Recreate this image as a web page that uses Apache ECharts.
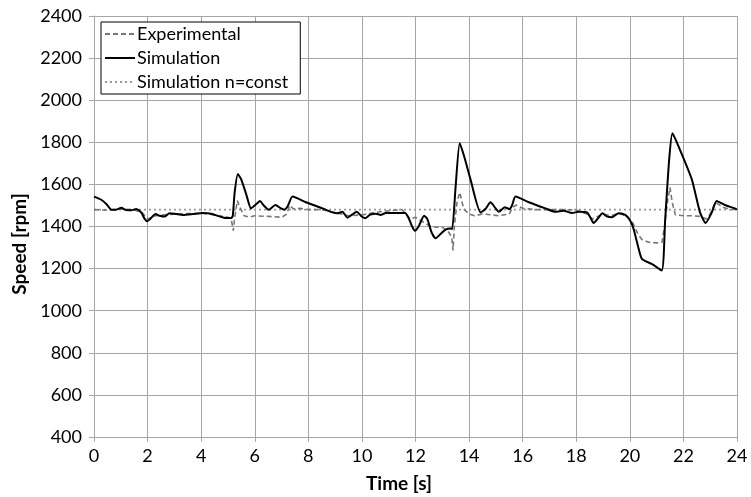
<!DOCTYPE html>
<html>
<head>
<meta charset="utf-8">
<script src="https://cdn.jsdelivr.net/npm/echarts@6/dist/echarts.min.js"></script>
<style>
  html, body { margin: 0; padding: 0; background: #fff; }
  #chart { width: 751px; height: 497px; }
</style>
</head>
<body>
<div id="chart"></div>
<script>
// Speed traces over time: [time s, speed rpm]
const experimental = [
  [0, 1480], [0.5, 1477], [1.0, 1483], [1.5, 1480], [1.8, 1465], [2.0, 1436], [2.3, 1451],
  [2.6, 1455], [3.0, 1459], [3.5, 1461], [4.0, 1463], [4.5, 1455], [5.0, 1444], [5.12, 1436],
  [5.2, 1380], [5.25, 1440], [5.35, 1523], [5.45, 1490], [5.6, 1451], [5.8, 1444], [6.0, 1451],
  [6.5, 1448], [7.0, 1444], [7.2, 1459], [7.3, 1500], [7.45, 1483], [7.7, 1486], [8.0, 1480],
  [8.5, 1480], [9.0, 1467], [9.5, 1451], [10.0, 1455], [10.5, 1467], [11.0, 1475], [11.5, 1480],
  [11.8, 1436], [12.0, 1444], [12.3, 1420], [12.6, 1398], [13.0, 1396], [13.2, 1380], [13.35, 1350],
  [13.4, 1286], [13.45, 1400], [13.55, 1515], [13.65, 1562], [13.8, 1483], [14.0, 1459], [14.2, 1451],
  [14.5, 1459], [14.8, 1456], [15.1, 1451], [15.5, 1459], [15.62, 1490], [15.75, 1502], [16.0, 1486],
  [16.5, 1480], [17.0, 1480], [17.5, 1480], [18.0, 1478], [18.4, 1459], [18.6, 1436], [18.8, 1448],
  [19.0, 1459], [19.3, 1451], [19.6, 1463], [19.9, 1448], [20.1, 1420], [20.3, 1365], [20.45, 1338],
  [20.7, 1325], [21.0, 1322], [21.2, 1325], [21.3, 1404], [21.42, 1530], [21.5, 1586], [21.58, 1515],
  [21.7, 1455], [22.0, 1451], [22.3, 1451], [22.6, 1448], [22.85, 1436], [23.0, 1459], [23.2, 1515],
  [23.5, 1490], [23.8, 1480], [24, 1486]
];

const simulation = [
  [0, 1542], [0.27, 1527], [0.46, 1507], [0.65, 1480], [0.83, 1480], [1.02, 1489], [1.2, 1478],
  [1.39, 1477], [1.58, 1483], [1.76, 1467], [1.89, 1436], [1.99, 1425], [2.1, 1436], [2.3, 1459],
  [2.45, 1451], [2.63, 1447], [2.82, 1463], [3.07, 1459], [3.32, 1455], [3.69, 1459], [4.06, 1464],
  [4.37, 1461], [4.68, 1448], [4.93, 1440], [5.12, 1440], [5.18, 1451], [5.25, 1562], [5.37, 1649],
  [5.49, 1625], [5.68, 1554], [5.86, 1486], [6.02, 1502], [6.2, 1521], [6.32, 1502], [6.52, 1480],
  [6.77, 1502], [6.98, 1486], [7.1, 1480], [7.23, 1496], [7.41, 1542], [7.91, 1515], [8.53, 1486],
  [8.9, 1467], [9.09, 1463], [9.27, 1470], [9.46, 1442], [9.62, 1455], [9.81, 1470], [9.96, 1451],
  [10.12, 1439], [10.29, 1455], [10.52, 1461], [10.7, 1455], [10.89, 1464], [11.26, 1464],
  [11.61, 1464], [11.76, 1436], [11.86, 1404], [11.98, 1380], [12.13, 1404], [12.32, 1451],
  [12.44, 1436], [12.6, 1372], [12.75, 1344], [12.94, 1365], [13.12, 1385], [13.31, 1391],
  [13.37, 1388], [13.5, 1594], [13.65, 1796], [13.81, 1736], [14.05, 1625], [14.43, 1467],
  [14.61, 1483], [14.8, 1515], [14.99, 1486], [15.11, 1470], [15.33, 1491], [15.51, 1483],
  [15.61, 1502], [15.73, 1542], [16.23, 1515], [16.85, 1486], [17.22, 1470], [17.53, 1475],
  [17.84, 1464], [18.09, 1470], [18.4, 1467], [18.52, 1444], [18.65, 1417], [18.81, 1439],
  [18.98, 1463], [19.14, 1448], [19.33, 1444], [19.58, 1463], [19.83, 1455], [20.01, 1428],
  [20.14, 1388], [20.3, 1309], [20.45, 1246], [20.82, 1222], [21.19, 1191], [21.32, 1436],
  [21.47, 1720], [21.59, 1843], [21.81, 1783], [22.31, 1625], [22.62, 1467], [22.83, 1417],
  [23.06, 1467], [23.24, 1521], [23.55, 1502], [23.92, 1486], [24, 1480]
];

const constSpeed = [[0, 1480], [24, 1480]];

const seriesNames = ['Experimental', 'Simulation', 'Simulation n=const'];
const xTitle = 'Time [s]';
const yTitle = 'Speed [rpm]';

const FONT = 'Lato, "Open Sans", sans-serif';
const GRID_COLOR = '#a6a6a6';

const chart = echarts.init(document.getElementById('chart'), null, { renderer: 'canvas' });

chart.setOption({
  animation: false,
  backgroundColor: '#fff',
  grid: { left: 94, right: 14, top: 16, bottom: 60, containLabel: false },
  legend: {
    orient: 'vertical',
    left: 101,
    top: 22,
    width: 200,
    padding: [3, 12, 3, 3],
    itemGap: 6,
    itemWidth: 30,
    itemHeight: 14,
    borderColor: '#000',
    borderWidth: 1,
    borderRadius: 0,
    backgroundColor: '#fff',
    itemStyle: { color: 'rgba(0,0,0,0)', borderWidth: 0, opacity: 0 },
    textStyle: { fontFamily: FONT, fontSize: 18, color: '#000', padding: [0, 0, 0, -3] },
    data: seriesNames
  },
  graphic: [
    {
      type: 'text',
      x: 20,
      y: 244,
      rotation: Math.PI / 2,
      style: {
        text: yTitle,
        fontFamily: FONT,
        fontSize: 19,
        fontWeight: 'bold',
        fill: '#000',
        align: 'center',
        verticalAlign: 'middle'
      }
    },
    {
      type: 'text',
      x: 399,
      y: 484,
      style: {
        text: xTitle,
        fontFamily: FONT,
        fontSize: 19,
        fontWeight: 'bold',
        fill: '#000',
        align: 'center',
        verticalAlign: 'middle'
      }
    }
  ],
  xAxis: {
    type: 'value',
    min: 0,
    max: 24,
    interval: 2,
    axisLine: { lineStyle: { color: GRID_COLOR, width: 1 } },
    axisTick: { show: true, length: 5, lineStyle: { color: GRID_COLOR } },
    axisLabel: { fontFamily: FONT, fontSize: 18, color: '#000', margin: 10 },
    splitLine: { show: true, lineStyle: { color: GRID_COLOR, width: 1 } }
  },
  yAxis: {
    type: 'value',
    min: 400,
    max: 2400,
    interval: 200,
    axisLine: { show: true, lineStyle: { color: GRID_COLOR, width: 1 } },
    axisTick: { show: true, length: 5, lineStyle: { color: GRID_COLOR } },
    axisLabel: {
      fontFamily: FONT, fontSize: 18, color: '#000', margin: 12,
      formatter: (v) => String(v)
    },
    splitLine: { show: true, lineStyle: { color: GRID_COLOR, width: 1 } }
  },
  series: [
    {
      name: seriesNames[0],
      type: 'line',
      data: experimental,
      showSymbol: false,
      symbol: 'none',
      z: 3,
      lineStyle: { color: '#777777', width: 1.6, type: [5, 3] },
      itemStyle: { color: '#777777' }
    },
    {
      name: seriesNames[1],
      type: 'line',
      data: simulation,
      showSymbol: false,
      symbol: 'none',
      smooth: 0.2,
      z: 4,
      lineStyle: { color: '#000000', width: 2 },
      itemStyle: { color: '#000000' }
    },
    {
      name: seriesNames[2],
      type: 'line',
      data: constSpeed,
      showSymbol: false,
      symbol: 'none',
      z: 2,
      lineStyle: { color: '#9a9a9a', width: 1.8, type: [2, 3] },
      itemStyle: { color: '#9a9a9a' }
    }
  ]
});
</script>
</body>
</html>
